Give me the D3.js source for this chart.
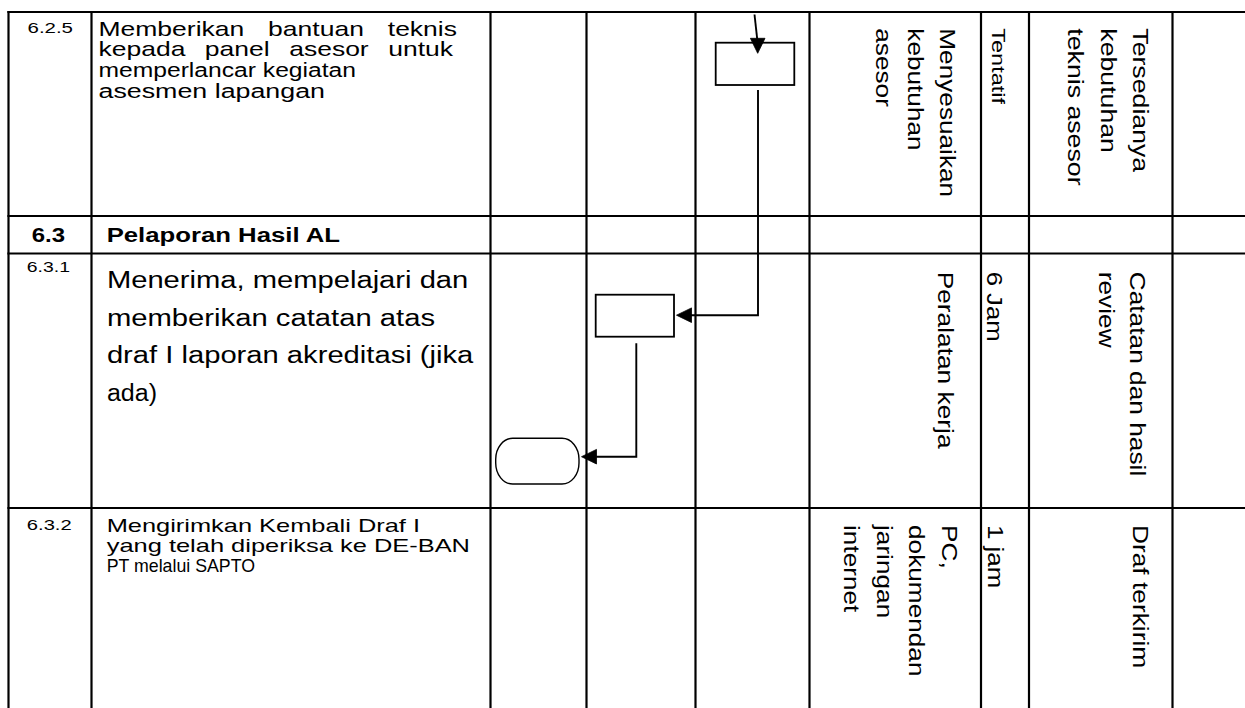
<!DOCTYPE html>
<html><head><meta charset="utf-8">
<script src="https://cdn.jsdelivr.net/npm/d3@7"></script>
<style>html,body{margin:0;padding:0;background:#fff;overflow:hidden}svg{display:block}</style>
</head><body>
<svg id="c" width="1245" height="708"></svg>
<script>
// ================= DATA =================
const stepNumbers = ["6.2.5", "6.3", "6.3.1", "6.3.2"];
const stepDescriptions = [
  ["Memberikan bantuan    teknis", "kepada panel    asesor untuk", "memperlancar kegiatan", "asesmen lapangan"],
  ["Pelaporan Hasil AL"],
  ["Menerima, mempelajari dan", "memberikan catatan atas", "draf I laporan akreditasi (jika", "ada)"],
  ["Mengirimkan Kembali Draf I", "yang telah diperiksa ke DE-BAN", "PT melalui SAPTO"]
];
const stepResources = [["Menyesuaikan", "kebutuhan", "asesor"], [], ["Peralatan kerja"], ["PC,", "dokumendan", "jaringan", "internet"]];
const stepDurations = [["Tentatif"], [], ["6 Jam"], ["1 jam"]];
const stepOutputs = [["Tersedianya", "kebutuhan", "teknis asesor"], [], ["Catatan dan hasil", "review"], ["Draf terkirim"]];
const headerRows = [1];                       // section header row (bold)
const flowNodes = [                            // flowchart symbols: step row, lane column
  {id: "a", row: 0, lane: 4, type: "process"},
  {id: "b", row: 2, lane: 3, type: "process"},
  {id: "c", row: 2, lane: 2, type: "terminator"}
];
const flowLinks = [{from: null, to: "a"}, {from: "a", to: "b"}, {from: "b", to: "c"}];

// ================= LAYOUT =================
const colEdges = [8.5, 91.5, 490.5, 586.5, 695.5, 809.5, 981, 1029, 1172.5, 1300];
const rowEdges = [12, 216, 253.5, 508, 760];
const W = 1245, H = 708;
const FONT = "'Liberation Sans', Arial, Helvetica, sans-serif";

// horizontal text: x start, first baseline, line height, font size, right ends of lines
const numLayout = [
  {x: 27.5, y: 32.5, size: 14.5, ends: [73]},
  {x: 31.7, y: 241.6, size: 19.5, ends: [65]},
  {x: 26.8, y: 271.8, size: 15, ends: [70]},
  {x: 26.8, y: 530.2, size: 14.5, ends: [71.7]}
];
const descLayout = [
  {x: 98.5, y: 35.5, lh: 20.7, size: 20, em: 26.5, justify: [true, true], ends: [457, 453, 356, 325]},
  {x: 106.7, y: 241.6, lh: 20, size: 19.5, ends: [340]},
  {x: 106.9, y: 288.3, lh: 37.4, size: 23.3, ends: [468.3, 435, 473.3, 157]},
  {x: 106.7, y: 531.6, lh: 20, size: 18.6, ends: [420, 470, 255]}
];
// vertical (rotated 90deg) text blocks: baseline x of first line, start y, line step, size, em
const resLayout = [
  {x: 940, y: 28.3, lh: 32, size: 21.5, em: 26.2}, null,
  {x: 937.7, y: 271.7, lh: 32, size: 22, em: 26.3},
  {x: 941.7, y: 525, lh: 32.5, size: 22, em: 26.2}
];
const durLayout = [
  {x: 991.5, y: 28.3, lh: 32, size: 18, em: 23.5}, null,
  {x: 987, y: 271.7, lh: 32, size: 22, em: 25.7},
  {x: 988.3, y: 525, lh: 32, size: 22, em: 25.9}
];
const outLayout = [
  {x: 1133, y: 28.3, lh: 32.4, size: 22, em: 26.7}, null,
  {x: 1130, y: 271.7, lh: 31, size: 22, em: 26.3},
  {x: 1132.7, y: 525, lh: 32, size: 22, em: 26.3}
];
// flow symbol geometry (offset of box from lane left edge / row top)
const nodeLayout = {
  a: {dx: 20.2, dy: 30.7, w: 78.6, h: 42.3},
  b: {dx: 9.2, dy: 41.2, w: 78.3, h: 42},
  c: {dx: 5.2, dy: 184.8, w: 83.3, h: 45.7}
};
const linkLayout = {
  "null-a": {start: [754.5, 14.5], tipY: 53.3, tipX: 757.7},
  "a-b": {x: 758, y0: 90, y: 315.2},
  "b-c": {x: 636.3, y0: 343.3, y: 456.7}
};

// ================= SCALES =================
const xCol = d3.scaleLinear().domain(d3.range(colEdges.length)).range(colEdges);
const yRow = d3.scaleLinear().domain(d3.range(rowEdges.length)).range(rowEdges);

const svg = d3.select("#c");
svg.append("rect").attr("width", W).attr("height", H).attr("fill", "#fff");

// ---------- grid ----------
const grid = svg.append("g").attr("stroke", "#000").attr("stroke-width", 2.2).attr("stroke-linecap", "square");
d3.range(rowEdges.length - 1).forEach(i => {
  grid.append("line").attr("x1", xCol(0)).attr("x2", W + 5).attr("y1", yRow(i)).attr("y2", yRow(i));
});
d3.range(colEdges.length - 1).forEach(i => {
  grid.append("line").attr("x1", xCol(i)).attr("x2", xCol(i)).attr("y1", yRow(0)).attr("y2", H + 5);
});

// ---------- text helpers ----------
const textG = svg.append("g").attr("font-family", FONT).attr("fill", "#000");

// line fitted between x and end (glyphs stretched)
function fitLine(str, x, y, size, end, bold) {
  textG.append("text")
    .attr("x", x).attr("y", y)
    .attr("font-size", size)
    .attr("font-weight", bold ? "bold" : "normal")
    .attr("textLength", end - x)
    .attr("lengthAdjust", "spacingAndGlyphs")
    .text(str.replace(/\s+/g, " "));
}
// justified line: words stretched by em/size, gaps spread to reach end
function justifyLine(str, x, y, size, em, end) {
  const k = em / size;
  const t = textG.append("text")
    .attr("transform", `translate(${x},${y}) scale(${k},1)`)
    .attr("font-size", size);
  const words = str.trim().split(/\s+/);
  const spans = words.map(w => t.append("tspan").text(w));
  const widths = spans.map(s => s.node().getComputedTextLength() * k);
  const gap = (end - x - d3.sum(widths)) / (words.length - 1);
  let cx = 0;
  spans.forEach((s, i) => { s.attr("x", cx / k); cx += widths[i] + gap; });
}

function vBlock(lines, L) {
  if (!L) return;
  const k = L.em / L.size;
  lines.forEach((str, i) => {
    textG.append("text")
      .attr("transform", `translate(${L.x - i * L.lh},${L.y}) rotate(90) scale(${k},1)`)
      .attr("font-size", L.size)
      .text(str);
  });
}

// ---------- table text ----------
stepNumbers.forEach((n, r) => {
  const L = numLayout[r];
  fitLine(n, L.x, L.y, L.size, L.ends[0], headerRows.includes(r));
});
stepDescriptions.forEach((lines, r) => {
  const L = descLayout[r];
  const bold = headerRows.includes(r);
  lines.forEach((s, i) => {
    const y = L.y + i * L.lh;
    if (L.justify && L.justify[i]) justifyLine(s, L.x, y, L.size, L.em, L.ends[i]);
    else fitLine(s, L.x, y, L.size, L.ends[i], bold);
  });
});
stepResources.forEach((lines, r) => vBlock(lines, resLayout[r]));
stepDurations.forEach((lines, r) => vBlock(lines, durLayout[r]));
stepOutputs.forEach((lines, r) => vBlock(lines, outLayout[r]));

// ---------- flow symbols ----------
const flowG = svg.append("g").attr("stroke", "#000").attr("fill", "none");
const boxes = {};
flowNodes.forEach(n => {
  const g = nodeLayout[n.id];
  const b = {x: xCol(n.lane) + g.dx, y: yRow(n.row) + g.dy, w: g.w, h: g.h};
  boxes[n.id] = b;
  if (n.type === "process") {
    flowG.append("rect").attr("x", b.x).attr("y", b.y).attr("width", b.w).attr("height", b.h)
      .attr("stroke-width", 1.8).attr("fill", "#fff");
  } else {
    flowG.append("rect").attr("x", b.x).attr("y", b.y).attr("width", b.w).attr("height", b.h)
      .attr("rx", 17).attr("ry", 21).attr("stroke-width", 1.4).attr("fill", "#fff");
  }
});

function arrowHead(tipX, tipY, dir) { // dir: "down" or "left"
  const L = 15, hw = 7.3;
  let pts;
  if (dir === "down") pts = [[tipX, tipY], [tipX - hw, tipY - L], [tipX + hw, tipY - L]];
  else pts = [[tipX, tipY], [tipX + L, tipY - hw], [tipX + L, tipY + hw]];
  svg.append("path").attr("d", d3.line()(pts) + "Z").attr("fill", "#000").attr("stroke", "#000").attr("stroke-width", 0.8);
}

flowLinks.forEach(l => {
  const key = `${l.from}-${l.to}`;
  const g = linkLayout[key];
  if (l.from === null) {
    flowG.append("path").attr("d", d3.line()([g.start, [g.tipX, g.tipY - 10]])).attr("stroke-width", 1.9);
    arrowHead(g.tipX, g.tipY, "down");
  } else {
    const tb = boxes[l.to];
    const tipX = tb.x + tb.w + 2.5;
    flowG.append("path").attr("d", d3.line()([[g.x, g.y0], [g.x, g.y], [tipX + 8, g.y]]))
      .attr("stroke-width", 1.9).attr("stroke-linejoin", "miter");
    arrowHead(tipX, g.y, "left");
  }
});
</script>
</body></html>
